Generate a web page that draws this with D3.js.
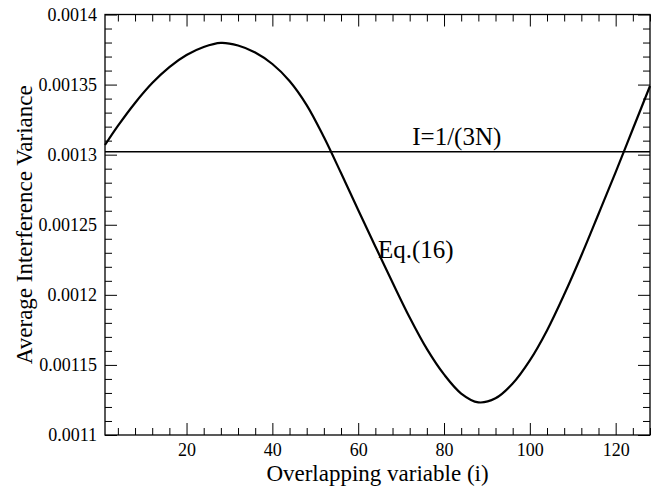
<!DOCTYPE html>
<html>
<head>
<meta charset="utf-8">
<script src="https://cdn.jsdelivr.net/npm/d3@7"></script>
<style>
  html, body { margin: 0; padding: 0; background: #fff; }
  svg { display: block; }
  text { font-family: "Liberation Serif", "Times New Roman", serif; fill: #000; }
</style>
</head>
<body>
<svg id="chart" width="655" height="487"></svg>
<script>
// ---- data ----
const iValues = [1, 4, 8, 12, 16, 20, 24, 28, 32, 36, 40, 44, 48, 52, 56, 60, 64, 68, 72, 76, 80, 84, 88, 92, 96, 100, 104, 108, 112, 116, 120, 124, 128];
const eq16Values = [0.0013069, 0.0013205, 0.0013369, 0.0013511, 0.0013625, 0.0013711, 0.0013768, 0.0013797, 0.0013779, 0.0013729, 0.0013647, 0.0013526, 0.0013354, 0.0013126, 0.0012869, 0.0012605, 0.0012345, 0.0012088, 0.0011838, 0.0011614, 0.0011432, 0.0011296, 0.0011233, 0.0011262, 0.0011367, 0.0011532, 0.0011746, 0.0012002, 0.0012281, 0.0012577, 0.0012876, 0.0013183, 0.0013490];
const constantLevel = [0.0013021, 0.0013021]; // I = 1/(3N)
const constantX = [1, 128];
const xTickValues = [20, 40, 60, 80, 100, 120];
const xTickLabels = ["20", "40", "60", "80", "100", "120"];
const yTickValues = [0.0011, 0.00115, 0.0012, 0.00125, 0.0013, 0.00135, 0.0014];
const yTickLabels = ["0.0011", "0.00115", "0.0012", "0.00125", "0.0013", "0.00135", "0.0014"];
const xDomain = [1, 128];
const yDomain = [0.0011, 0.0014];
const xTitle = "Overlapping variable (i)";
const yTitle = "Average Interference Variance";
const annotations = [
  { text: "I=1/(3N)", x: 72.6, y: 0.0013070 },
  { text: "Eq.(16)", x: 64.6, y: 0.0012263 }
];

// ---- layout ----
const mLeft = 105, mRight = 650, mTop = 14.5, mBottom = 435;
const svg = d3.select("#chart");
const x = d3.scaleLinear().domain(xDomain).range([mLeft, mRight]);
const y = d3.scaleLinear().domain(yDomain).range([mBottom, mTop]);

const xMinor = d3.range(4, 129, 4).filter(v => v % 20 !== 0);
const yMinor = d3.range(1, 30).filter(k => k % 5 !== 0).map(k => 0.0011 + k * 0.00001);

function styleAxis(g) {
  g.select(".domain").remove();
  g.selectAll(".tick line").attr("stroke", "#000").attr("stroke-width", 1);
  g.selectAll(".tick text").style("font-size", "18px").style("font-family", "'Liberation Serif', 'Times New Roman', serif");
}

// bottom axis (major with labels)
svg.append("g").attr("transform", `translate(0,${mBottom})`)
  .call(d3.axisBottom(x).tickValues(xTickValues).tickFormat((d, i) => xTickLabels[i]).tickSize(-12).tickPadding(8))
  .call(styleAxis);
svg.append("g").attr("transform", `translate(0,${mBottom})`)
  .call(d3.axisBottom(x).tickValues(xMinor).tickFormat("").tickSize(-7))
  .call(styleAxis);
// top axis
svg.append("g").attr("transform", `translate(0,${mTop})`)
  .call(d3.axisTop(x).tickValues(xTickValues).tickFormat("").tickSize(-12))
  .call(styleAxis);
svg.append("g").attr("transform", `translate(0,${mTop})`)
  .call(d3.axisTop(x).tickValues(xMinor).tickFormat("").tickSize(-7))
  .call(styleAxis);
// left axis
svg.append("g").attr("transform", `translate(${mLeft},0)`)
  .call(d3.axisLeft(y).tickValues(yTickValues).tickFormat((d, i) => yTickLabels[i]).tickSize(-12).tickPadding(8))
  .call(styleAxis);
svg.append("g").attr("transform", `translate(${mLeft},0)`)
  .call(d3.axisLeft(y).tickValues(yMinor).tickFormat("").tickSize(-7))
  .call(styleAxis);
// right axis
svg.append("g").attr("transform", `translate(${mRight},0)`)
  .call(d3.axisRight(y).tickValues(yTickValues).tickFormat("").tickSize(-12))
  .call(styleAxis);
svg.append("g").attr("transform", `translate(${mRight},0)`)
  .call(d3.axisRight(y).tickValues(yMinor).tickFormat("").tickSize(-7))
  .call(styleAxis);

// frame
svg.append("rect").attr("x", mLeft).attr("y", mTop).attr("width", mRight - mLeft).attr("height", mBottom - mTop)
  .attr("fill", "none").attr("stroke", "#000").attr("stroke-width", 1.3);

// constant line
svg.append("path")
  .datum(constantX.map((v, i) => [v, constantLevel[i]]))
  .attr("fill", "none").attr("stroke", "#000").attr("stroke-width", 1.6)
  .attr("d", d3.line().x(d => x(d[0])).y(d => y(d[1])));

// Eq.(16) curve
svg.append("path")
  .datum(iValues.map((v, i) => [v, eq16Values[i]]))
  .attr("fill", "none").attr("stroke", "#000").attr("stroke-width", 2.2)
  .attr("d", d3.line().x(d => x(d[0])).y(d => y(d[1])).curve(d3.curveCatmullRom));

// annotations
svg.selectAll("text.ann").data(annotations).enter().append("text")
  .attr("class", "ann")
  .attr("x", d => x(d.x)).attr("y", d => y(d.y))
  .style("font-size", "25px")
  .text(d => d.text);

// axis titles
svg.append("text")
  .attr("x", (mLeft + mRight) / 2).attr("y", 481)
  .attr("text-anchor", "middle").style("font-size", "23px")
  .text(xTitle);
svg.append("text")
  .attr("transform", `translate(32,${(mTop + mBottom) / 2}) rotate(-90)`)
  .attr("text-anchor", "middle").style("font-size", "23px")
  .text(yTitle);
</script>
</body>
</html>
